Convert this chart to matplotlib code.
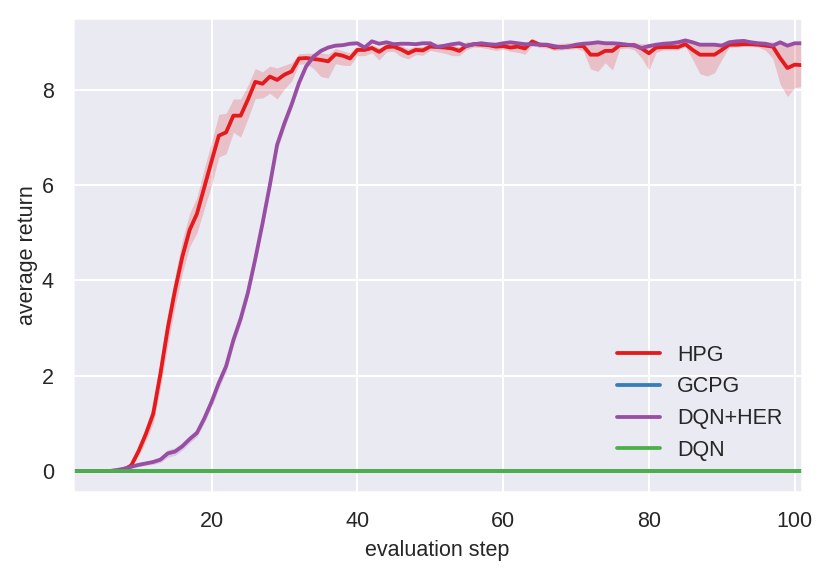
import numpy as np
import matplotlib
matplotlib.use("Agg")
import matplotlib.pyplot as plt
import seaborn as sns

sns.set_theme(style="darkgrid", context="notebook")
plt.rcParams['font.family'] = ['Liberation Sans', 'DejaVu Sans']
FS = 10.75
plt.rcParams.update({'axes.labelsize': FS, 'xtick.labelsize': FS,
                     'ytick.labelsize': FS, 'legend.fontsize': FS})

steps = list(range(1, 102))

hpg = [0.0, 0.0, 0.0, 0.0, 0.0, 0.0, 0.01, 0.03, 0.12, 0.42,
       0.78, 1.2, 2.05, 3.0, 3.8, 4.5, 5.06, 5.4, 5.95, 6.5,
       7.04, 7.11, 7.46, 7.46, 7.8, 8.17, 8.13, 8.28, 8.21, 8.32,
       8.39, 8.66, 8.67, 8.65, 8.63, 8.6, 8.75, 8.72, 8.66, 8.84,
       8.84, 8.88, 8.8, 8.9, 8.91, 8.85, 8.77, 8.84, 8.83, 8.91,
       8.9, 8.89, 8.87, 8.82, 8.93, 8.96, 8.95, 8.94, 8.91, 8.92,
       8.89, 8.91, 8.87, 9.02, 8.95, 8.94, 8.89, 8.9, 8.91, 8.92,
       8.92, 8.74, 8.74, 8.82, 8.82, 8.94, 8.94, 8.94, 8.87, 8.77,
       8.89, 8.9, 8.9, 8.9, 8.96, 8.84, 8.74, 8.74, 8.74, 8.84,
       8.95, 8.95, 8.96, 8.96, 8.95, 8.93, 8.91, 8.67, 8.46, 8.53,
       8.52]
hpg_dn = [0.0, 0.0, 0.0, 0.0, 0.0, 0.0, 0.01, 0.02, 0.05, 0.1,
          0.15, 0.2, 0.3, 0.35, 0.35, 0.35, 0.35, 0.4, 0.45, 0.5,
          0.45, 0.45, 0.35, 0.45, 0.4, 0.35, 0.3, 0.35, 0.4, 0.3,
          0.2, 0.12, 0.12, 0.2, 0.35, 0.35, 0.2, 0.2, 0.15, 0.12,
          0.12, 0.1, 0.17, 0.1, 0.1, 0.15, 0.12, 0.1, 0.1, 0.08,
          0.1, 0.12, 0.15, 0.1, 0.08, 0.06, 0.06, 0.08, 0.08, 0.06,
          0.08, 0.12, 0.12, 0.08, 0.06, 0.06, 0.06, 0.06, 0.06, 0.05,
          0.1, 0.3, 0.35, 0.25, 0.4, 0.08, 0.06, 0.1, 0.2, 0.35,
          0.1, 0.06, 0.06, 0.06, 0.05, 0.2, 0.4, 0.45, 0.38, 0.2,
          0.05, 0.05, 0.05, 0.05, 0.05, 0.1, 0.25, 0.55, 0.6, 0.48,
          0.45]
hpg_up = [0.0, 0.0, 0.0, 0.0, 0.0, 0.0, 0.01, 0.02, 0.05, 0.1,
          0.15, 0.2, 0.3, 0.3, 0.3, 0.35, 0.35, 0.35, 0.4, 0.4,
          0.45, 0.4, 0.35, 0.35, 0.3, 0.28, 0.25, 0.22, 0.25, 0.2,
          0.18, 0.1, 0.1, 0.12, 0.15, 0.15, 0.12, 0.1, 0.12, 0.1,
          0.08, 0.08, 0.08, 0.08, 0.08, 0.08, 0.1, 0.08, 0.08, 0.08,
          0.08, 0.08, 0.08, 0.08, 0.08, 0.06, 0.06, 0.06, 0.08, 0.08,
          0.08, 0.08, 0.08, 0.04, 0.06, 0.06, 0.08, 0.08, 0.08, 0.08,
          0.1, 0.25, 0.25, 0.18, 0.18, 0.06, 0.06, 0.06, 0.1, 0.2,
          0.08, 0.08, 0.08, 0.08, 0.06, 0.15, 0.22, 0.22, 0.22, 0.15,
          0.06, 0.06, 0.06, 0.06, 0.06, 0.08, 0.1, 0.3, 0.5, 0.45,
          0.45]

gcpg = [0.0] * 101

dqn_her = [0.0, 0.0, 0.0, 0.0, 0.0, 0.0, 0.02, 0.05, 0.09, 0.13,
           0.16, 0.19, 0.24, 0.37, 0.41, 0.52, 0.67, 0.8, 1.1, 1.45,
           1.85, 2.2, 2.75, 3.2, 3.75, 4.45, 5.2, 6.0, 6.85, 7.3,
           7.7, 8.15, 8.5, 8.7, 8.82, 8.89, 8.93, 8.94, 8.97, 8.98,
           8.89, 9.02, 8.97, 9.0, 8.96, 8.97, 8.97, 8.96, 8.98, 8.98,
           8.9, 8.93, 8.96, 8.98, 8.92, 8.96, 8.98, 8.96, 8.95, 8.98,
           9.0, 8.98, 8.96, 8.96, 8.95, 8.95, 8.92, 8.89, 8.91, 8.95,
           8.97, 8.98, 9.0, 8.98, 8.98, 8.97, 8.95, 8.93, 8.88, 8.92,
           8.95, 8.97, 8.98, 9.0, 9.04, 9.0, 8.95, 8.95, 8.95, 8.93,
           9.0, 9.02, 9.03, 9.0, 8.98, 8.97, 8.93, 9.0, 8.93, 8.98,
           8.98]
dqn_her_sd = [0.0, 0.0, 0.0, 0.0, 0.0, 0.0, 0.01, 0.02, 0.03, 0.04,
              0.04, 0.05, 0.06, 0.08, 0.08, 0.08, 0.08, 0.08, 0.1, 0.12,
              0.12, 0.12, 0.12, 0.12, 0.12, 0.12, 0.12, 0.12, 0.12, 0.12,
              0.1, 0.08, 0.06, 0.05, 0.04, 0.03, 0.03, 0.03, 0.03, 0.03,
              0.03, 0.03, 0.03, 0.03, 0.03, 0.03, 0.03, 0.03, 0.03, 0.03,
              0.03, 0.03, 0.03, 0.03, 0.03, 0.03, 0.03, 0.03, 0.03, 0.03,
              0.03, 0.03, 0.03, 0.03, 0.03, 0.03, 0.03, 0.03, 0.03, 0.03,
              0.03, 0.03, 0.03, 0.03, 0.03, 0.03, 0.03, 0.03, 0.03, 0.03,
              0.03, 0.03, 0.03, 0.03, 0.03, 0.03, 0.03, 0.03, 0.03, 0.03,
              0.03, 0.03, 0.03, 0.03, 0.03, 0.03, 0.03, 0.03, 0.03, 0.03,
              0.03]

dqn = [0.0] * 101

labels = ["HPG", "GCPG", "DQN+HER", "DQN"]
pal = sns.color_palette("Set1")
colors = [pal[0], pal[1], pal[3], pal[2]]
LW = 1.9

fig = plt.figure(figsize=(830 / 144, 573 / 144), dpi=144)
ax = fig.add_axes([73 / 830, 1 - 492 / 573, (802 - 73) / 830, (492 - 18) / 573])

x = np.array(steps)
h = np.array(hpg)
ax.fill_between(x, h - np.array(hpg_dn), h + np.array(hpg_up), color=colors[0], alpha=0.2, lw=0)
ax.plot(x, h, color=colors[0], lw=LW, label=labels[0])

ax.plot(x, gcpg, color=colors[1], lw=LW, label=labels[1])

d = np.array(dqn_her)
s = np.array(dqn_her_sd)
ax.fill_between(x, d - s, d + s, color=colors[2], alpha=0.2, lw=0)
ax.plot(x, d, color=colors[2], lw=LW, label=labels[2])

ax.plot(x, dqn, color=colors[3], lw=LW, label=labels[3])

ax.set_xlim(1, 101)
ax.set_ylim(-0.44, 9.51)
ax.set_yticks([0, 2, 4, 6, 8])
ax.set_xticks([20, 40, 60, 80, 100])
ax.set_xlabel("evaluation step")
ax.set_ylabel("average return", labelpad=2)
ax.legend(loc="lower right", bbox_to_anchor=(1.0, 0.025), frameon=False,
          labelspacing=0.5)

fig.savefig("out.png", dpi=144)
